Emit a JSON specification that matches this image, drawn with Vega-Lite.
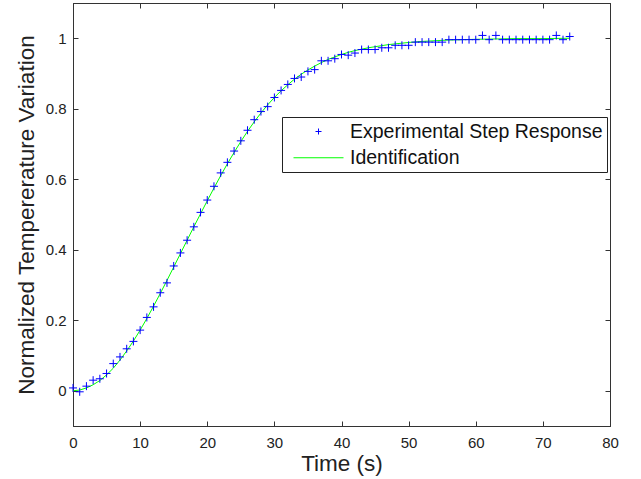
{
  "$schema": "https://vega.github.io/schema/vega-lite/v6.json",
  "width": 537,
  "height": 423,
  "autosize": {"type": "none"},
  "padding": {"left": 73, "top": 3, "right": 31, "bottom": 53},
  "background": "white",
  "config": {
    "view": {"stroke": "#333", "strokeWidth": 1},
    "font": "Liberation Sans",
    "axis": {
      "grid": false,
      "domainColor": "#333",
      "tickColor": "#333",
      "tickSize": -5,
      "labelFlush": false,
      "labelFont": "Liberation Sans",
      "labelFontSize": 15,
      "labelColor": "#222",
      "titleFont": "Liberation Sans",
      "titleFontSize": 22.5,
      "titleFontWeight": "normal",
      "titleColor": "#222"
    }
  },
  "datasets": {
    "exp": [
      {"t": 0, "v": 0.008, "series": "Experimental Step Response"},
      {"t": 1, "v": -0.003, "series": "Experimental Step Response"},
      {"t": 2, "v": 0.013, "series": "Experimental Step Response"},
      {"t": 3, "v": 0.030, "series": "Experimental Step Response"},
      {"t": 4, "v": 0.034, "series": "Experimental Step Response"},
      {"t": 5, "v": 0.049, "series": "Experimental Step Response"},
      {"t": 6, "v": 0.077, "series": "Experimental Step Response"},
      {"t": 7, "v": 0.096, "series": "Experimental Step Response"},
      {"t": 8, "v": 0.119, "series": "Experimental Step Response"},
      {"t": 9, "v": 0.140, "series": "Experimental Step Response"},
      {"t": 10, "v": 0.172, "series": "Experimental Step Response"},
      {"t": 11, "v": 0.208, "series": "Experimental Step Response"},
      {"t": 12, "v": 0.238, "series": "Experimental Step Response"},
      {"t": 13, "v": 0.278, "series": "Experimental Step Response"},
      {"t": 14, "v": 0.306, "series": "Experimental Step Response"},
      {"t": 15, "v": 0.354, "series": "Experimental Step Response"},
      {"t": 16, "v": 0.391, "series": "Experimental Step Response"},
      {"t": 17, "v": 0.427, "series": "Experimental Step Response"},
      {"t": 18, "v": 0.465, "series": "Experimental Step Response"},
      {"t": 19, "v": 0.506, "series": "Experimental Step Response"},
      {"t": 20, "v": 0.541, "series": "Experimental Step Response"},
      {"t": 21, "v": 0.580, "series": "Experimental Step Response"},
      {"t": 22, "v": 0.618, "series": "Experimental Step Response"},
      {"t": 23, "v": 0.648, "series": "Experimental Step Response"},
      {"t": 24, "v": 0.680, "series": "Experimental Step Response"},
      {"t": 25, "v": 0.709, "series": "Experimental Step Response"},
      {"t": 26, "v": 0.739, "series": "Experimental Step Response"},
      {"t": 27, "v": 0.769, "series": "Experimental Step Response"},
      {"t": 28, "v": 0.792, "series": "Experimental Step Response"},
      {"t": 29, "v": 0.806, "series": "Experimental Step Response"},
      {"t": 30, "v": 0.832, "series": "Experimental Step Response"},
      {"t": 31, "v": 0.852, "series": "Experimental Step Response"},
      {"t": 32, "v": 0.869, "series": "Experimental Step Response"},
      {"t": 33, "v": 0.886, "series": "Experimental Step Response"},
      {"t": 34, "v": 0.890, "series": "Experimental Step Response"},
      {"t": 35, "v": 0.906, "series": "Experimental Step Response"},
      {"t": 36, "v": 0.911, "series": "Experimental Step Response"},
      {"t": 37, "v": 0.936, "series": "Experimental Step Response"},
      {"t": 38, "v": 0.936, "series": "Experimental Step Response"},
      {"t": 39, "v": 0.942, "series": "Experimental Step Response"},
      {"t": 40, "v": 0.954, "series": "Experimental Step Response"},
      {"t": 41, "v": 0.952, "series": "Experimental Step Response"},
      {"t": 42, "v": 0.958, "series": "Experimental Step Response"},
      {"t": 43, "v": 0.968, "series": "Experimental Step Response"},
      {"t": 44, "v": 0.968, "series": "Experimental Step Response"},
      {"t": 45, "v": 0.968, "series": "Experimental Step Response"},
      {"t": 46, "v": 0.973, "series": "Experimental Step Response"},
      {"t": 47, "v": 0.973, "series": "Experimental Step Response"},
      {"t": 48, "v": 0.980, "series": "Experimental Step Response"},
      {"t": 49, "v": 0.980, "series": "Experimental Step Response"},
      {"t": 50, "v": 0.980, "series": "Experimental Step Response"},
      {"t": 51, "v": 0.989, "series": "Experimental Step Response"},
      {"t": 52, "v": 0.989, "series": "Experimental Step Response"},
      {"t": 53, "v": 0.989, "series": "Experimental Step Response"},
      {"t": 54, "v": 0.989, "series": "Experimental Step Response"},
      {"t": 55, "v": 0.989, "series": "Experimental Step Response"},
      {"t": 56, "v": 0.996, "series": "Experimental Step Response"},
      {"t": 57, "v": 0.996, "series": "Experimental Step Response"},
      {"t": 58, "v": 0.996, "series": "Experimental Step Response"},
      {"t": 59, "v": 0.996, "series": "Experimental Step Response"},
      {"t": 60, "v": 0.996, "series": "Experimental Step Response"},
      {"t": 61, "v": 1.008, "series": "Experimental Step Response"},
      {"t": 62, "v": 0.996, "series": "Experimental Step Response"},
      {"t": 63, "v": 1.008, "series": "Experimental Step Response"},
      {"t": 64, "v": 0.996, "series": "Experimental Step Response"},
      {"t": 65, "v": 0.996, "series": "Experimental Step Response"},
      {"t": 66, "v": 0.996, "series": "Experimental Step Response"},
      {"t": 67, "v": 0.996, "series": "Experimental Step Response"},
      {"t": 68, "v": 0.996, "series": "Experimental Step Response"},
      {"t": 69, "v": 0.996, "series": "Experimental Step Response"},
      {"t": 70, "v": 0.996, "series": "Experimental Step Response"},
      {"t": 71, "v": 0.996, "series": "Experimental Step Response"},
      {"t": 72, "v": 1.008, "series": "Experimental Step Response"},
      {"t": 73, "v": 0.996, "series": "Experimental Step Response"},
      {"t": 74, "v": 1.005, "series": "Experimental Step Response"}
    ],
    "fit": [
      {"t": 0, "v": 0.000}, {"t": 1, "v": 0.002}, {"t": 2, "v": 0.008}, {"t": 3, "v": 0.017},
      {"t": 4, "v": 0.029}, {"t": 5, "v": 0.045}, {"t": 6, "v": 0.064}, {"t": 7, "v": 0.087},
      {"t": 8, "v": 0.113}, {"t": 9, "v": 0.141}, {"t": 10, "v": 0.172}, {"t": 11, "v": 0.205},
      {"t": 12, "v": 0.240}, {"t": 13, "v": 0.276}, {"t": 14, "v": 0.313}, {"t": 15, "v": 0.351},
      {"t": 16, "v": 0.389}, {"t": 17, "v": 0.427}, {"t": 18, "v": 0.465}, {"t": 19, "v": 0.502},
      {"t": 20, "v": 0.539}, {"t": 21, "v": 0.575}, {"t": 22, "v": 0.610}, {"t": 23, "v": 0.644},
      {"t": 24, "v": 0.676}, {"t": 25, "v": 0.707}, {"t": 26, "v": 0.736}, {"t": 27, "v": 0.763},
      {"t": 28, "v": 0.788}, {"t": 29, "v": 0.811}, {"t": 30, "v": 0.832}, {"t": 31, "v": 0.851},
      {"t": 32, "v": 0.868}, {"t": 33, "v": 0.884}, {"t": 34, "v": 0.898}, {"t": 35, "v": 0.910},
      {"t": 36, "v": 0.921}, {"t": 37, "v": 0.931}, {"t": 38, "v": 0.940}, {"t": 39, "v": 0.947},
      {"t": 40, "v": 0.954}, {"t": 41, "v": 0.960}, {"t": 42, "v": 0.965}, {"t": 43, "v": 0.969},
      {"t": 44, "v": 0.973}, {"t": 45, "v": 0.976}, {"t": 46, "v": 0.979}, {"t": 47, "v": 0.982},
      {"t": 48, "v": 0.984}, {"t": 49, "v": 0.986}, {"t": 50, "v": 0.988}, {"t": 52, "v": 0.991},
      {"t": 54, "v": 0.993}, {"t": 56, "v": 0.995}, {"t": 58, "v": 0.996}, {"t": 60, "v": 0.997},
      {"t": 63, "v": 0.998}, {"t": 66, "v": 0.999}, {"t": 70, "v": 0.999}, {"t": 74, "v": 1.000}
    ]
  },
  "layer": [
    {
      "data": {"name": "fit"},
      "mark": {"type": "line", "color": "#00ff00", "strokeWidth": 1},
      "encoding": {
        "x": {
          "field": "t", "type": "quantitative",
          "scale": {"domain": [0, 80], "nice": false, "zero": false},
          "axis": {"orient": "bottom", "title": "Time (s)", "values": [0, 10, 20, 30, 40, 50, 60, 70, 80], "labelPadding": 14, "titlePadding": 2}
        },
        "y": {
          "field": "v", "type": "quantitative",
          "scale": {"domain": [-0.1, 1.1], "nice": false, "zero": false},
          "axis": {"orient": "left", "title": "Normalized Tempererature Variation", "values": [0, 0.2, 0.4, 0.6, 0.8, 1], "format": "~g", "labelPadding": 12, "titlePadding": 7}
        }
      }
    },
    {
      "data": {"name": "exp"},
      "mark": {"type": "point", "filled": false, "strokeWidth": 1, "size": 711, "opacity": 1},
      "encoding": {
        "x": {
          "field": "t", "type": "quantitative",
          "scale": {"domain": [0, 80], "nice": false, "zero": false},
          "axis": {"orient": "top", "title": null, "labels": false, "values": [0, 10, 20, 30, 40, 50, 60, 70, 80]}
        },
        "y": {
          "field": "v", "type": "quantitative",
          "scale": {"domain": [-0.1, 1.1], "nice": false, "zero": false},
          "axis": {"orient": "right", "title": null, "labels": false, "values": [0, 0.2, 0.4, 0.6, 0.8, 1]}
        },
        "color": {
          "field": "series", "type": "nominal",
          "scale": {"domain": ["Experimental Step Response", "Identification"], "range": ["#0000ff", "#00ff00"]},
          "legend": {
            "orient": "none", "legendX": 209, "legendY": 114, "title": null,
            "strokeColor": "#222", "fillColor": "white", "padding": 4,
            "labelFont": "Liberation Sans", "labelFontSize": 19.5, "labelColor": "#111", "labelLimit": 500,
            "symbolSize": 400, "symbolStrokeWidth": 1, "symbolOffset": 22, "labelOffset": 21, "rowPadding": 6.25
          }
        },
        "shape": {
          "field": "series", "type": "nominal",
          "scale": {"domain": ["Experimental Step Response", "Identification"], "range": ["M-0.3,0H0.3M0,-0.3V0.3", "M-2.5,0H2.5"]},
          "legend": {
            "orient": "none", "legendX": 209, "legendY": 114, "title": null,
            "strokeColor": "#222", "fillColor": "white", "padding": 4,
            "labelFont": "Liberation Sans", "labelFontSize": 19.5, "labelColor": "#111", "labelLimit": 500,
            "symbolSize": 400, "symbolStrokeWidth": 1, "symbolOffset": 22, "labelOffset": 21, "rowPadding": 6.25
          }
        }
      }
    }
  ],
  "resolve": {"axis": {"x": "independent", "y": "independent"}}
}
